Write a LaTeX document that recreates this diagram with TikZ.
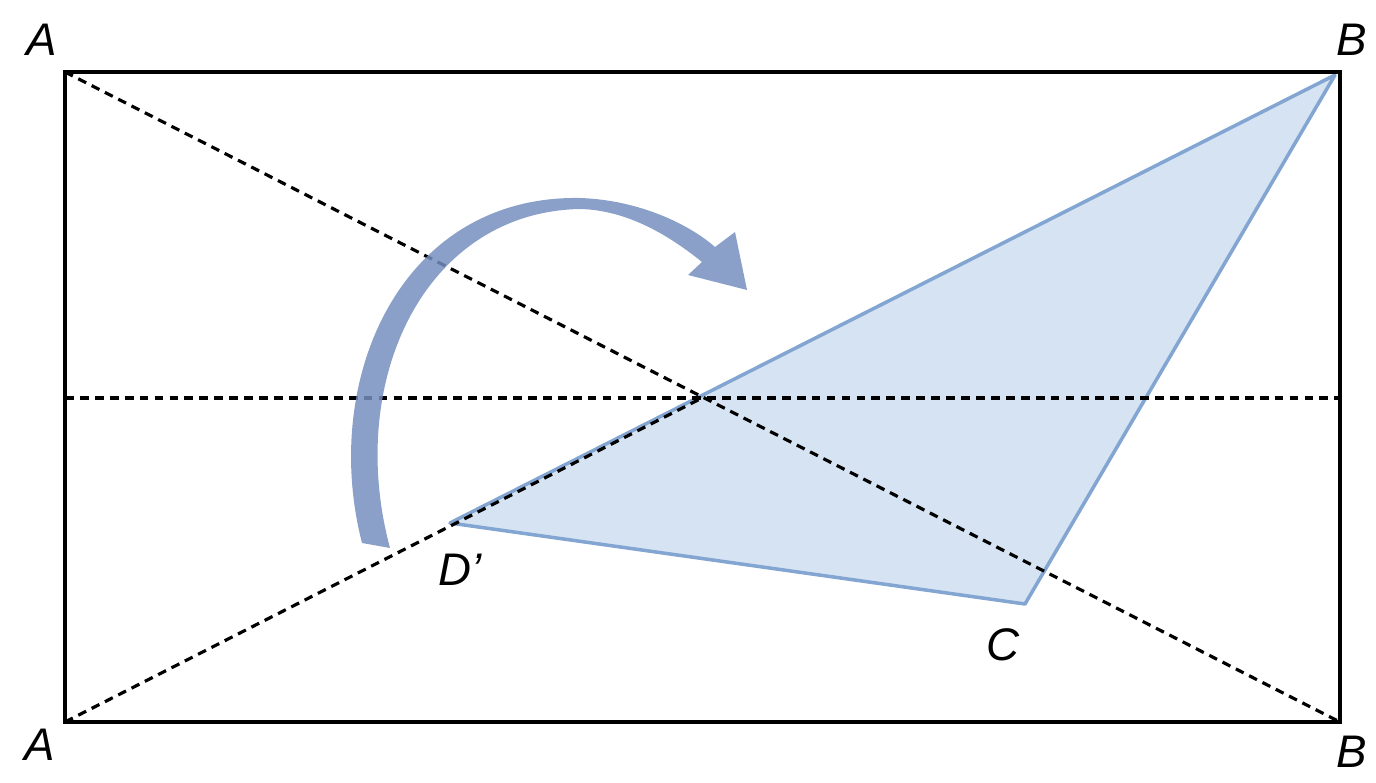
\documentclass[tikz,border=0pt]{standalone}
\usepackage{fontspec}
\setmainfont{Liberation Sans}
\definecolor{triFill}{RGB}{214,227,242}
\definecolor{triLine}{RGB}{130,165,210}
\definecolor{arrowBlue}{RGB}{118,143,190}
\begin{document}
\begin{tikzpicture}[x=0.02cm, y=-0.02cm,
	fold/.style={dash pattern=on 5pt off 3.5pt, line width=1.8pt},
	lbl/.style={font=\fontsize{26}{26}\selectfont\itshape}]
	\useasboundingbox (0,0) rectangle (1376,783);
	% Eckpunkte
	\coordinate (A1) at (65,72);
	\coordinate (B1) at (1340,72);
	\coordinate (A2) at (65,722);
	\coordinate (B2) at (1340,722);
	\coordinate (ML) at (65,398);
	\coordinate (MR) at (1340,398);
	\coordinate (M) at (702,398);
	\coordinate (Bt) at (1335,75);
	\coordinate (Dp) at (450,523);
	\coordinate (C) at (1025,604);
	% Dreieck
	\filldraw[fill=triFill, draw=triLine, line width=2pt, line join=round]
		(Bt) -- (Dp) -- (C) -- cycle;
	% Faltlinien
	\draw[fold] (A1) -- (B2);
	\draw[fold] (A2) -- (M);
	\draw[fold] (ML) -- (MR);
	% Rahmen
	\draw[line width=2.5pt] (A1) rectangle (B2);
	% Drehpfeil
	\fill[arrowBlue, opacity=0.85] (362,543) .. controls (320,380) and (400,195) .. (580,198)
		.. controls (640,200) and (690,225) .. (715,247) -- (735,232) -- (747,290)
		-- (688,275) -- (702,262) .. controls (660,228) and (620,210) .. (580,209)
		.. controls (425,212) and (345,380) .. (390,548) -- cycle;
	% Beschriftungen
	\node[lbl] (lA1) at (42,40) {A};
	\node[lbl] (lB1) at (1352,40) {B};
	\node[lbl] (lA2) at (40,745) {A};
	\node[lbl] (lB2) at (1352,752) {B};
	\node[lbl] (lD) at (460,570) {D’};
	\node[lbl] (lC) at (1003,645) {C};
\end{tikzpicture}
\end{document}
